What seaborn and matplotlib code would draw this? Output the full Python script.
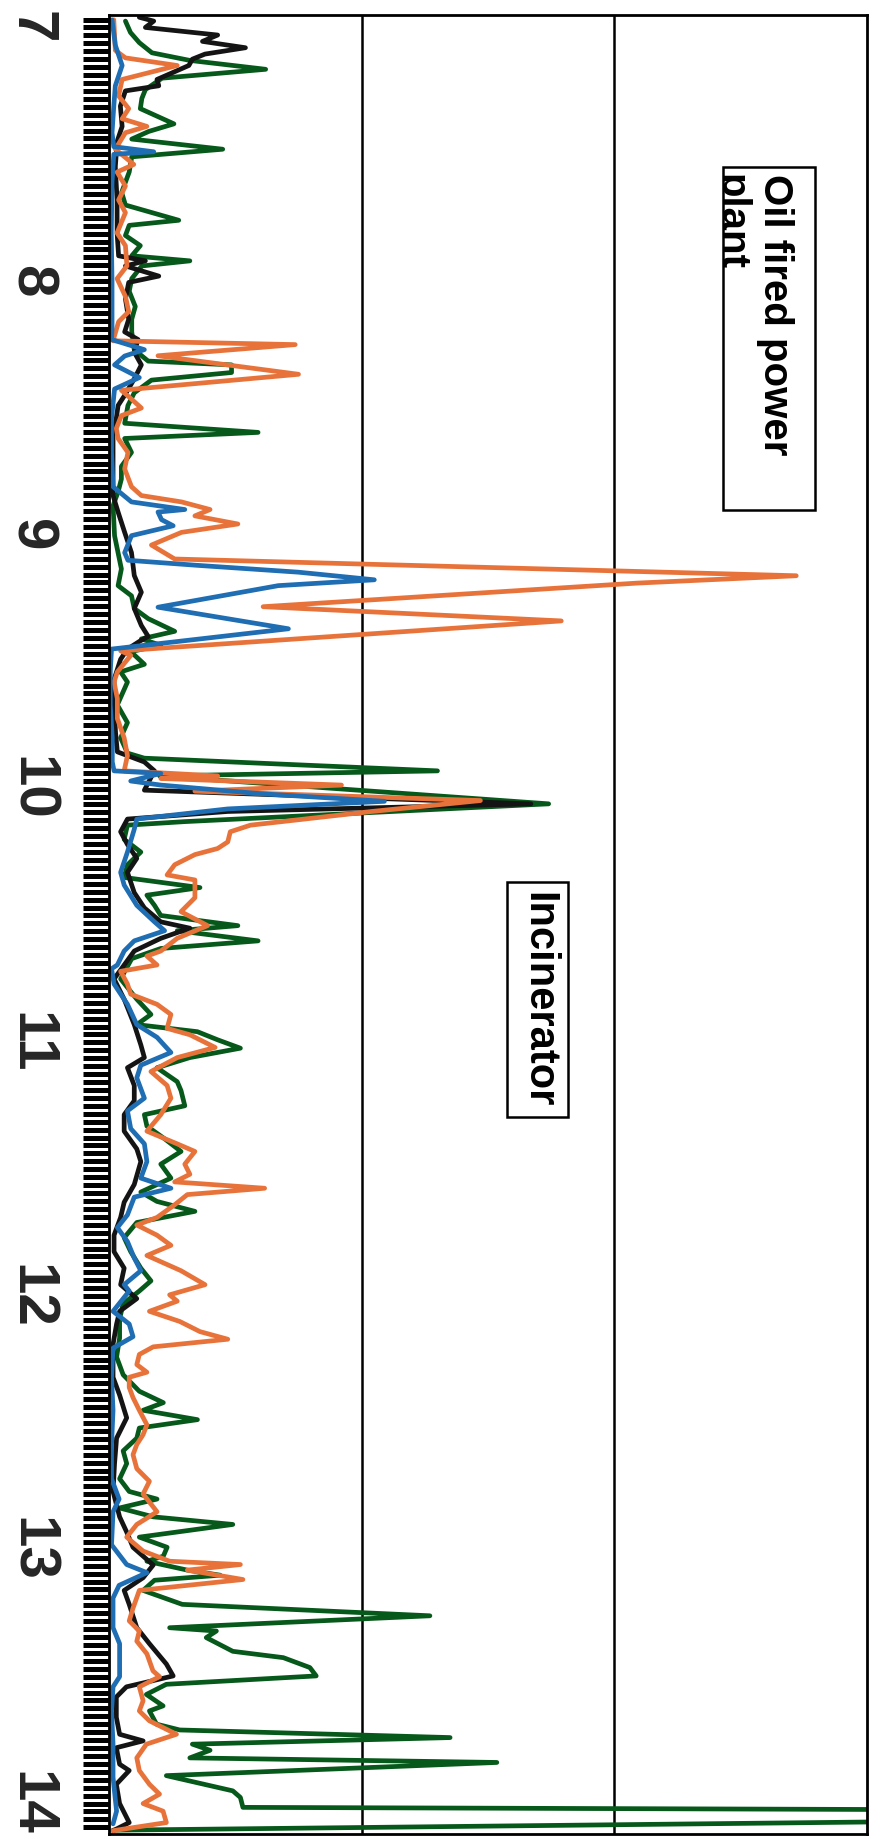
import matplotlib
matplotlib.use("Agg")
import matplotlib.pyplot as plt
from matplotlib.patches import Rectangle
from matplotlib.ticker import MultipleLocator, FixedLocator, NullFormatter
import seaborn as sns
import pandas as pd

# ---------------- data (time axis t, signal value v) ----------------
green_t = [6.975, 7.02, 7.06, 7.10, 7.13, 7.165, 7.20, 7.245, 7.28, 7.32, 7.38, 7.41, 7.44, 7.48, 7.51, 7.57, 7.65, 7.70, 7.76, 7.78, 7.82, 7.86, 7.90, 7.92, 7.94, 7.99, 8.04, 8.10, 8.15, 8.20, 8.27, 8.315, 8.33, 8.36, 8.39, 8.44, 8.49, 8.56, 8.596, 8.62, 8.675, 8.73, 8.78, 8.83, 8.885, 9.003, 9.07, 9.134, 9.20, 9.24, 9.29, 9.33, 9.38, 9.41, 9.435, 9.46, 9.51, 9.54, 9.58, 9.67, 9.74, 9.80, 9.86, 9.88, 9.93, 9.95, 10.06, 10.13, 10.144, 10.20, 10.25, 10.30, 10.35, 10.39, 10.42, 10.46, 10.50, 10.54, 10.56, 10.60, 10.63, 10.67, 10.75, 10.83, 10.89, 10.93, 10.958, 10.99, 11.023, 11.06, 11.10, 11.155, 11.19, 11.25, 11.285, 11.33, 11.38, 11.43, 11.48, 11.535, 11.59, 11.627, 11.666, 11.71, 11.77, 11.825, 11.89, 11.94, 11.98, 12.03, 12.09, 12.165, 12.24, 12.31, 12.375, 12.42, 12.45, 12.487, 12.52, 12.56, 12.61, 12.66, 12.72, 12.77, 12.80, 12.835, 12.87, 12.90, 12.95, 12.99, 13.025, 13.045, 13.08, 13.10, 13.12, 13.16, 13.215, 13.26, 13.307, 13.32, 13.346, 13.40, 13.425, 13.464, 13.497, 13.53, 13.57, 13.615, 13.635, 13.687, 13.71, 13.74, 13.766, 13.79, 13.82, 13.838, 13.89, 13.95, 13.976, 14.015, 14.035, 14.105]
green_v = [6.5, 8.5, 12, 17, 32, 62, 21, 14.4, 13, 12.4, 25.7, 15.7, 9, 45, 9, 8, 5, 6.5, 27.6, 8, 6.5, 12.4, 9, 32, 13, 9, 8, 10.4, 9, 9, 10, 15.5, 48.5, 48.5, 16.8, 10, 7.5, 6.2, 59, 6.2, 8.9, 4.9, 4.9, 3.6, 1.6, 2.2, 3.6, 4.9, 3.6, 8.9, 10, 15.5, 26, 12.8, 20.5, 8.6, 14, 4.6, 7.3, 3.3, 7.3, 4.6, 7.3, 14, 130, 20, 174, 30, 7.3, 6, 12.6, 7.3, 6, 36, 15, 18, 20.5, 51, 27, 59, 20.5, 9, 4.6, 11, 16.6, 11, 35, 43, 52, 32, 19, 27, 28.5, 30, 14, 15, 22, 28.5, 20.5, 24.5, 12.6, 19, 34, 11, 6, 8.6, 12.6, 16.6, 12, 5.6, 4.2, 4.2, 3, 5.6, 12, 21.5, 13.5, 35, 12, 11, 5.6, 7, 4.2, 8, 19, 4.2, 17.5, 49, 12, 23, 21.5, 15, 31, 44, 18, 13.5, 29, 127, 24, 42.5, 38.5, 49, 69, 79.5, 82, 22.7, 14.8, 21.4, 16, 18.8, 28, 135, 33, 40, 32, 153.5, 22.7, 49, 52, 53, 650, 1.6]

black_t = [6.96, 6.975, 7.00, 7.03, 7.055, 7.08, 7.105, 7.125, 7.15, 7.205, 7.23, 7.25, 7.31, 7.39, 7.45, 7.55, 7.68, 7.81, 7.90, 7.92, 7.94, 7.98, 8.005, 8.07, 8.15, 8.20, 8.23, 8.28, 8.33, 8.385, 8.45, 8.49, 8.54, 8.61, 8.74, 8.845, 8.91, 8.99, 9.07, 9.16, 9.226, 9.29, 9.357, 9.40, 9.42, 9.45, 9.49, 9.57, 9.67, 9.78, 9.855, 9.895, 9.93, 10.006, 10.06, 10.09, 10.12, 10.17, 10.22, 10.275, 10.33, 10.41, 10.47, 10.525, 10.55, 10.59, 10.64, 10.695, 10.75, 10.83, 10.93, 11.01, 11.06, 11.10, 11.17, 11.23, 11.285, 11.35, 11.42, 11.47, 11.56, 11.63, 11.69, 11.76, 11.825, 11.89, 11.955, 12.01, 12.06, 12.11, 12.19, 12.32, 12.39, 12.48, 12.56, 12.66, 12.77, 12.87, 12.93, 12.99, 13.06, 13.11, 13.16, 13.215, 13.307, 13.37, 13.45, 13.497, 13.54, 13.58, 13.66, 13.727, 13.753, 13.78, 13.845, 13.87, 13.924, 14.00, 14.075, 14.107]
black_v = [12, 17.7, 14.4, 43, 37, 54, 38, 33, 31.6, 19, 19.7, 6.5, 4.5, 5.2, 3.2, 2.5, 3.2, 3.2, 3.8, 14.4, 6.5, 19.7, 7.8, 6.5, 7.8, 6.2, 11.5, 10, 12.8, 10, 6.2, 3.6, 2.9, 1.6, 1.6, 1.6, 3.6, 6.2, 8.9, 10, 12.8, 10, 12.8, 15.5, 12, 7.3, 4.6, 2, 2, 2.6, 3.3, 14, 18, 14, 167, 47, 7.3, 4.6, 7.3, 11, 7.3, 10, 14, 20.5, 32, 20.5, 10, 6, 2, 6, 10, 12.6, 14, 7.3, 10, 10, 6, 6, 11, 12.6, 10, 6, 4.6, 2, 2, 6, 4.6, 11, 4.2, 3, 1.6, 1.6, 4.2, 7, 3, 2.2, 1.6, 4.2, 7, 9.5, 17.5, 13.5, 6, 8, 11, 16, 22.7, 25.4, 6.9, 2.9, 2.9, 4.2, 13.5, 2.9, 4.2, 8, 2.9, 4.2, 8, 1.6]

orange_t = [6.97, 7.09, 7.12, 7.15, 7.205, 7.27, 7.32, 7.36, 7.39, 7.415, 7.48, 7.54, 7.57, 7.625, 7.68, 7.73, 7.81, 7.86, 7.94, 7.99, 8.06, 8.12, 8.16, 8.235, 8.25, 8.294, 8.367, 8.43, 8.465, 8.50, 8.53, 8.58, 8.62, 8.675, 8.74, 8.81, 8.845, 8.87, 8.90, 8.925, 8.957, 8.99, 9.04, 9.095, 9.161, 9.19, 9.283, 9.339, 9.457, 9.475, 9.54, 9.58, 9.645, 9.724, 9.80, 9.87, 9.93, 9.95, 9.96, 9.986, 10.01, 10.047, 10.09, 10.144, 10.17, 10.21, 10.236, 10.26, 10.30, 10.34, 10.36, 10.43, 10.485, 10.54, 10.59, 10.64, 10.66, 10.695, 10.72, 10.77, 10.81, 10.85, 10.89, 10.945, 10.97, 11.02, 11.06, 11.115, 11.17, 11.22, 11.285, 11.35, 11.40, 11.43, 11.48, 11.52, 11.55, 11.575, 11.60, 11.64, 11.69, 11.72, 11.76, 11.80, 11.84, 11.90, 11.955, 11.995, 12.02, 12.06, 12.10, 12.14, 12.17, 12.20, 12.23, 12.27, 12.30, 12.32, 12.36, 12.40, 12.45, 12.507, 12.546, 12.585, 12.625, 12.68, 12.73, 12.78, 12.85, 12.90, 12.95, 13.005, 13.045, 13.058, 13.08, 13.117, 13.16, 13.23, 13.28, 13.32, 13.36, 13.41, 13.477, 13.50, 13.54, 13.595, 13.635, 13.674, 13.727, 13.766, 13.82, 13.87, 13.924, 13.963, 14.00, 14.03, 14.075, 14.107]
orange_v = [1.9, 2.5, 6.5, 27, 5.2, 3.8, 7.8, 5.2, 15, 6.5, 2.5, 9.8, 3.2, 6.5, 3.8, 6.5, 3.2, 6.5, 7.1, 3.2, 6.5, 7.8, 3.8, 1.6, 73.7, 19.4, 75, 4.9, 8.9, 12.8, 4.9, 2.9, 3.6, 7.5, 6.2, 8.9, 12.8, 28.7, 40, 34, 51, 28.7, 16.8, 26, 272, 209, 61, 179, 4.6, 8.6, 3.3, 2, 3.3, 3.3, 6, 7.3, 6, 43, 20.5, 92, 34, 147, 104, 56, 48, 47, 43, 34, 26, 23, 34, 34, 28.5, 39, 27, 20.5, 15, 19, 4.6, 7.3, 8.6, 19, 24.5, 23, 32, 42, 27, 16.6, 23, 24.5, 20.5, 15, 27, 34, 30, 32, 26, 61.6, 31, 26, 19, 11, 19, 24.5, 15, 28.5, 38, 24, 27, 16, 28, 36, 47, 17.5, 12, 11, 15, 8, 8, 9.5, 12, 15, 13.5, 11, 9.5, 11, 16, 13.5, 19, 11, 7, 13.5, 24, 52, 31, 53, 12, 9.5, 8, 12, 11, 15, 17.4, 20, 12, 13.5, 12, 16, 26.7, 14.8, 11, 12, 16, 20, 13.5, 21.4, 22.7, 1.6]

blue_t = [6.97, 7.07, 7.15, 7.23, 7.31, 7.415, 7.47, 7.49, 7.50, 7.61, 7.81, 8.005, 8.19, 8.23, 8.27, 8.295, 8.33, 8.38, 8.425, 8.54, 8.675, 8.81, 8.87, 8.90, 8.91, 8.94, 8.964, 9.003, 9.07, 9.10, 9.12, 9.147, 9.177, 9.20, 9.285, 9.37, 9.45, 9.54, 9.67, 9.80, 9.895, 9.93, 9.94, 9.97, 9.986, 10.02, 10.05, 10.08, 10.12, 10.16, 10.25, 10.33, 10.38, 10.46, 10.525, 10.56, 10.60, 10.64, 10.695, 10.71, 10.77, 10.85, 10.93, 10.98, 11.04, 11.09, 11.14, 11.22, 11.27, 11.34, 11.40, 11.47, 11.535, 11.575, 11.61, 11.68, 11.73, 11.785, 11.85, 11.90, 11.955, 11.98, 12.06, 12.11, 12.16, 12.205, 12.32, 12.45, 12.585, 12.72, 12.80, 12.85, 12.98, 13.058, 13.09, 13.14, 13.19, 13.307, 13.37, 13.50, 13.54, 13.635, 13.766, 13.897, 14.03, 14.08]
blue_v = [1.2, 2.5, 5.2, 2.5, 1.9, 1.2, 1.9, 17.7, 1.9, 1.2, 0.9, 1.2, 1.2, 1, 14, 6.2, 2.2, 12, 2.2, 1, 1, 1.6, 8.9, 30, 19.4, 20.8, 25.4, 8.9, 6.2, 7.5, 35, 75, 105, 67, 19.4, 71, 1, 0.5, 0.5, 1.3, 1.3, 2, 20.5, 8.6, 20.5, 60, 109, 47, 11, 10, 7.3, 4.6, 6, 11, 18, 22, 10, 6, 3.3, 1, 2, 7.3, 11, 19, 24.5, 12.6, 11, 14, 7.3, 8.6, 14, 15, 12.6, 24.5, 10, 7.3, 3.3, 7.3, 10, 12.6, 6, 8, 1.6, 8, 9.5, 1.6, 1, 1.6, 1, 1, 4, 1.6, 1, 7, 15, 4, 1.6, 1.6, 4.2, 4.2, 1.6, 1, 1.6, 1.6, 3, 1.6]

time_ticks = [7, 8, 9, 10, 11, 12, 13, 14]
time_labels = ["7", "8", "9", "10", "11", "12", "13", "14"]
value_grid = [100, 200]
label_oil = "Oil fired power\nplant"
label_inc = "Incinerator"

series = [
    ("green", green_t, green_v, "#06591a"),
    ("black", black_t, black_v, "#141414"),
    ("orange", orange_t, orange_v, "#e8733a"),
    ("blue", blue_t, blue_v, "#1f6db3"),
]
for name, t, v, _ in series:
    assert len(t) == len(v), (name, len(t), len(v))

# ---------------- figure ----------------
sns.set_style("white")
plt.rcParams["font.family"] = ["Liberation Sans", "DejaVu Sans"]

W, H = 882, 1839
fig = plt.figure(figsize=(W / 100, H / 100), dpi=100)
fig.patch.set_facecolor("white")

def fx(x):
    return x / W

def fy(y):
    return 1 - y / H

left_px, right_px, top_px, bot_px = 109, 867, 15, 1834
ax = fig.add_axes([fx(left_px), fy(bot_px), (right_px - left_px) / W, (bot_px - top_px) / H])

for name, t, v, col in series:
    df = pd.DataFrame({"t": t, "v": v})
    sns.lineplot(data=df, x="v", y="t", orient="y", sort=False, estimator=None,
                 color=col, linewidth=3.4, ax=ax, legend=False)

ax.set_xlim(0, 300)
ax.set_ylim(14.12, 6.951)
ax.set_xlabel("")
ax.set_ylabel("")

# value axis: only the two vertical grid lines
ax.xaxis.set_major_locator(FixedLocator(value_grid))
ax.xaxis.set_major_formatter(NullFormatter())
ax.tick_params(axis="x", length=0)
ax.grid(axis="x", color="black", linewidth=1.8)
ax.grid(axis="y", visible=False)
ax.set_axisbelow(True)

# time axis: dense heavy tick bars, rotated labels
ax.yaxis.set_major_locator(FixedLocator(time_ticks))
ax.yaxis.set_minor_locator(MultipleLocator(1 / 32))
ax.set_yticklabels(time_labels)
ax.tick_params(axis="y", which="both", direction="out", length=19, width=3.6,
               color="black", left=True, right=False)
ax.tick_params(axis="y", which="major", pad=18, labelsize=42, labelrotation=-90)
for lab in ax.get_yticklabels():
    lab.set_fontweight("bold")
    lab.set_va("center")
    lab.set_ha("right")

for sp in ax.spines.values():
    sp.set_visible(True)
    sp.set_color("black")
    sp.set_linewidth(2.0)

# annotation: oil fired power plant (box clips the second line like the original)
rect_oil = Rectangle((fx(723), fy(510)), (815 - 723) / W, (510 - 167) / H,
                     transform=fig.transFigure, facecolor="white", edgecolor="black",
                     linewidth=1.8, zorder=10)
fig.add_artist(rect_oil)
txt_oil = fig.text(fx(794), fy(174), label_oil, rotation=-90, ha="right", va="top",
                   multialignment="left", fontsize=29, fontweight="bold",
                   linespacing=1.22, color="black", zorder=11)
txt_oil.set_clip_path(rect_oil)

# annotation: incinerator
rect_inc = Rectangle((fx(507), fy(1117)), (568 - 507) / W, (1117 - 882) / H,
                     transform=fig.transFigure, facecolor="white", edgecolor="black",
                     linewidth=1.8, zorder=10)
fig.add_artist(rect_inc)
fig.text(fx(538), fy(1000), label_inc, rotation=-90, ha="center", va="center",
         fontsize=30, fontweight="bold", color="black", zorder=11)

fig.savefig("out.png", dpi=100, facecolor="white")
